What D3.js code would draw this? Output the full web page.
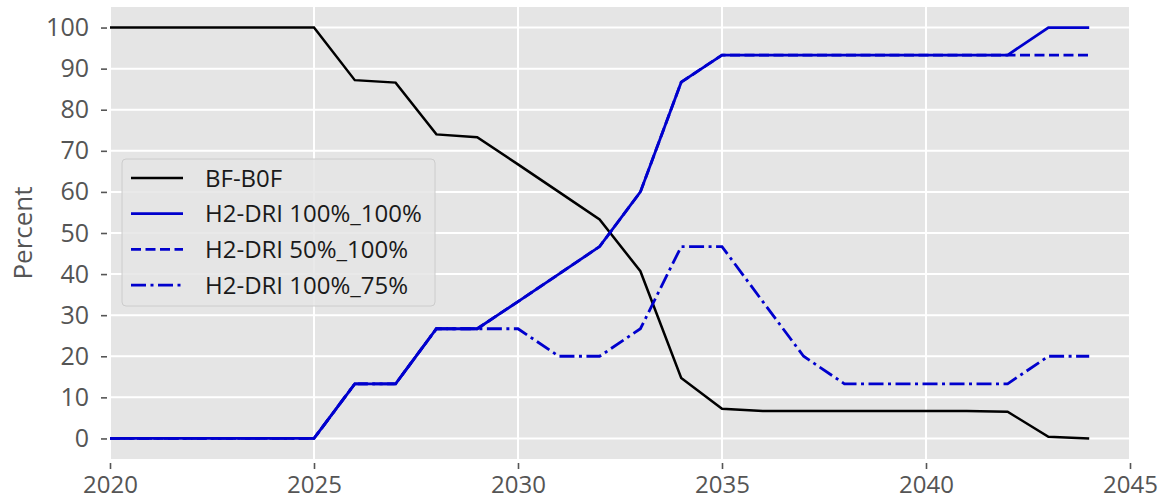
<!DOCTYPE html>
<html>
<head>
<meta charset="utf-8">
<script src="https://cdn.jsdelivr.net/npm/d3@7"></script>
<style>
  html, body { margin: 0; padding: 0; background: #ffffff; }
  svg { display: block; }
  text { font-family: "Open Sans", "Noto Sans", "DejaVu Sans", sans-serif; }
</style>
</head>
<body>
<svg id="chart" width="1163" height="502"></svg>
<script>
// Share of steel production routes by year (percent)
const years = d3.range(2020, 2045);
const bfBof = [100, 100, 100, 100, 100, 100, 87.2, 86.6, 74.0, 73.3, 66.7, 60.0, 53.3, 40.7, 14.7, 7.2, 6.7, 6.7, 6.7, 6.7, 6.7, 6.7, 6.5, 0.4, 0.0];
const h2Dri100_100 = [0, 0, 0, 0, 0, 0, 13.3, 13.3, 26.7, 26.7, 33.3, 40.0, 46.7, 60.0, 86.7, 93.3, 93.3, 93.3, 93.3, 93.3, 93.3, 93.3, 93.3, 100, 100];
const h2Dri50_100 = [0, 0, 0, 0, 0, 0, 13.3, 13.3, 26.7, 26.7, 33.3, 40.0, 46.7, 60.0, 86.7, 93.3, 93.3, 93.3, 93.3, 93.3, 93.3, 93.3, 93.3, 93.3, 93.3];
const h2Dri100_75 = [0, 0, 0, 0, 0, 0, 13.3, 13.3, 26.7, 26.7, 26.7, 20.0, 20.0, 26.7, 46.7, 46.7, 33.3, 20.0, 13.3, 13.3, 13.3, 13.3, 13.3, 20.0, 20.0];

const seriesNames = ["BF-B0F", "H2-DRI 100%_100%", "H2-DRI 50%_100%", "H2-DRI 100%_75%"];
const seriesValues = [bfBof, h2Dri100_100, h2Dri50_100, h2Dri100_75];
const xTicks = [2020, 2025, 2030, 2035, 2040, 2045];
const yTicks = [0, 10, 20, 30, 40, 50, 60, 70, 80, 90, 100];

const lineStyles = [
  { color: "#000000", width: 2.5, dash: null },
  { color: "#0000cd", width: 2.8, dash: null },
  { color: "#0000cd", width: 2.8, dash: "10,4.5" },
  { color: "#0000cd", width: 2.8, dash: "15,4.5,3,4.5" }
];

const svg = d3.select("#chart");
const margin = { left: 110, top: 7, right: 1163 - 1130, bottom: 502 - 459 };
const W = 1163 - margin.left - margin.right;
const H = 502 - margin.top - margin.bottom;

const x = d3.scaleLinear().domain([2020, 2045]).range([0, W]);
const y = d3.scaleLinear().domain([-5, 105]).range([H, 0]);

const g = svg.append("g").attr("transform", `translate(${margin.left},${margin.top})`);

// panel background
g.append("rect").attr("width", W).attr("height", H).attr("fill", "#e5e5e5");

// grid
g.selectAll(".gx").data(xTicks).join("line")
  .attr("x1", d => x(d)).attr("x2", d => x(d)).attr("y1", 0).attr("y2", H)
  .attr("stroke", "#ffffff").attr("stroke-width", 2);
g.selectAll(".gy").data(yTicks).join("line")
  .attr("x1", 0).attr("x2", W).attr("y1", d => y(d)).attr("y2", d => y(d))
  .attr("stroke", "#ffffff").attr("stroke-width", 2);

// axes
const xAxis = g.append("g").attr("transform", `translate(0,${H})`)
  .call(d3.axisBottom(x).tickValues(xTicks).tickFormat(d3.format("d")).tickSize(6).tickPadding(11));
const yAxis = g.append("g")
  .call(d3.axisLeft(y).tickValues(yTicks).tickSize(6).tickPadding(15));
[xAxis, yAxis].forEach(a => {
  a.select(".domain").remove();
  a.selectAll(".tick line").attr("stroke", "#555555").attr("stroke-width", 1.6);
  a.selectAll(".tick text").attr("fill", "#555555").style("font-size", "25px");
});
xAxis.selectAll(".tick text").style("font-size", "24px");
xAxis.selectAll(".tick line").attr("transform", "translate(0,4)");
yAxis.selectAll(".tick line").attr("transform", "translate(-3,0)");

// y label
svg.append("text")
  .attr("transform", `translate(32,${margin.top + H / 2}) rotate(-90)`)
  .attr("text-anchor", "middle")
  .attr("fill", "#555555")
  .style("font-size", "26px")
  .text("Percent");

// lines
const line = d3.line().x((d, i) => x(years[i])).y(d => y(d));
svg.append("defs").append("clipPath").attr("id", "clip")
  .append("rect").attr("width", W).attr("height", H);
seriesValues.forEach((vals, k) => {
  g.append("path").datum(vals)
    .attr("d", line)
    .attr("fill", "none")
    .attr("stroke", lineStyles[k].color)
    .attr("stroke-width", lineStyles[k].width)
    .attr("stroke-dasharray", lineStyles[k].dash)
    .attr("clip-path", "url(#clip)");
});

// legend
const legend = svg.append("g").attr("transform", "translate(122,159)");
legend.append("rect")
  .attr("width", 313).attr("height", 147).attr("rx", 4)
  .attr("fill", "#e5e5e5").attr("fill-opacity", 0.85)
  .attr("stroke", "#cccccc").attr("stroke-width", 1);
seriesNames.forEach((name, k) => {
  const yy = 19 + k * 35.7;
  legend.append("line")
    .attr("x1", 9).attr("x2", 61).attr("y1", yy).attr("y2", yy)
    .attr("stroke", lineStyles[k].color).attr("stroke-width", lineStyles[k].width)
    .attr("stroke-dasharray", lineStyles[k].dash);
  legend.append("text")
    .attr("x", 83).attr("y", yy).attr("dy", "0.36em")
    .attr("fill", "#1a1a1a")
    .style("font-size", "24px")
    .text(name);
});
</script>
</body>
</html>
